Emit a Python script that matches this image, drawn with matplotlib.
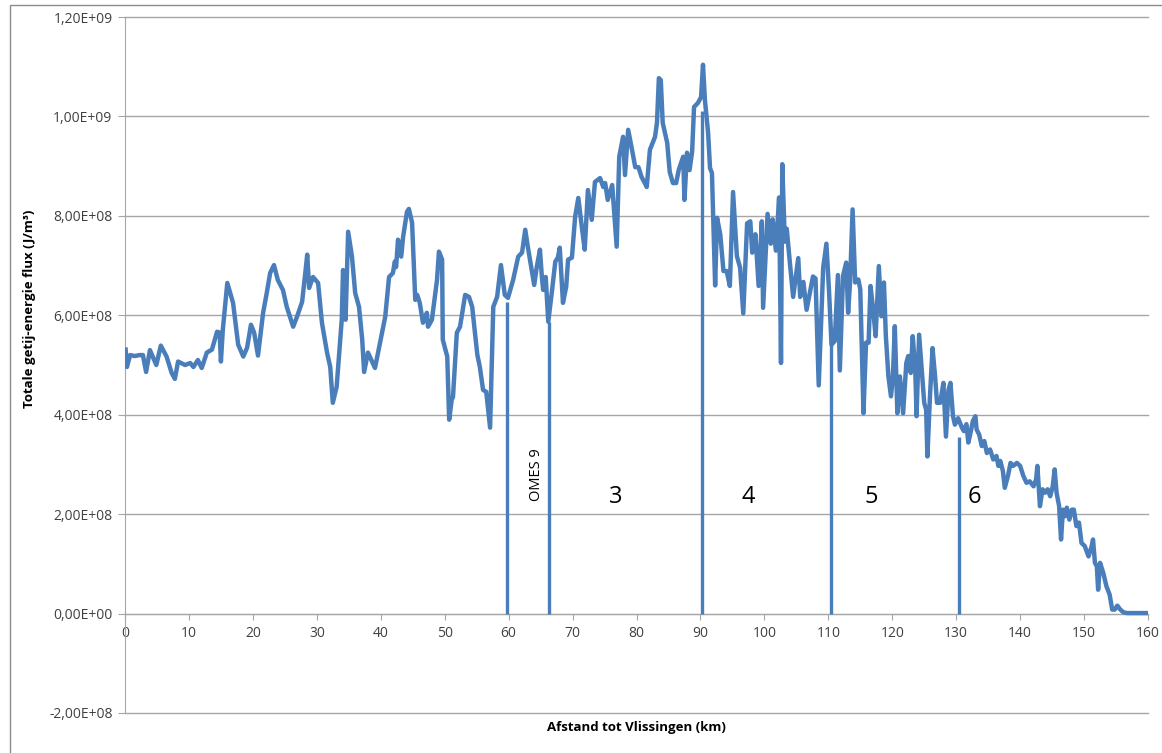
import matplotlib
matplotlib.use("Agg")
import matplotlib.pyplot as plt
from matplotlib.ticker import FuncFormatter, MultipleLocator
from matplotlib.patches import Rectangle

# Distance from Vlissingen (km)
km = [
    0.1, 0.3, 0.8, 1.5, 2.3, 2.8, 3.3, 3.9, 4.9, 5.6, 6.5, 7.3, 7.8, 8.3, 9.4,
    10.2, 10.7, 11.4, 12.0, 12.8, 13.6, 14.4, 14.8, 15.0, 15.3, 16.0, 16.9,
    17.7, 18.5, 19.1, 19.7, 20.2, 20.8, 21.6, 22.2, 22.7, 23.3, 23.9, 24.7,
    25.3, 26.3, 26.9, 27.7, 28.2, 28.5, 28.8, 29.4, 30.2, 30.8, 31.6, 32.1,
    32.5, 33.1, 33.9, 34.1, 34.5, 34.9, 35.5, 36.0, 36.6, 37.1, 37.4, 38.0,
    39.1, 39.9, 40.7, 41.3, 41.9, 42.2, 42.4, 42.7, 43.2, 43.5, 44.1, 44.4,
    44.9, 45.4, 45.7, 46.1, 46.6, 47.2, 47.4, 48.0, 48.8, 49.1, 49.6, 49.7,
    50.4, 50.7, 51.1, 51.3, 51.9, 52.4, 53.2, 53.8, 54.3, 55.1, 55.5, 56.0,
    56.5, 57.1, 57.6, 58.2, 58.8, 59.4, 59.9, 60.7, 61.5, 62.1, 62.6, 63.0,
    63.7, 64.0, 64.4, 64.9, 65.2, 65.4, 65.8, 66.2, 66.8, 67.3, 67.7, 68.0,
    68.5, 69.0, 69.3, 69.9, 70.4, 70.9, 71.5, 71.9, 72.4, 73.0, 73.5, 74.3,
    74.8, 75.1, 75.5, 76.2, 76.9, 77.3, 77.9, 78.2, 78.7, 79.3, 79.8, 80.3,
    80.8, 81.3, 81.6, 82.1, 82.9, 83.2, 83.5, 83.8, 84.1, 84.8, 85.2, 85.7,
    86.2, 86.6, 87.3, 87.5, 87.9, 88.3, 88.7, 89.0, 89.6, 90.1, 90.4, 90.7,
    91.2, 91.5, 91.8, 92.3, 92.6, 93.1, 93.6, 94.1, 94.6, 95.1, 95.7, 96.2,
    96.7, 97.3, 97.8, 98.1, 98.6, 99.1, 99.6, 99.8, 100.5, 101.0, 101.3,
    101.8, 102.3, 102.6, 102.8, 103.2, 103.5, 104.0, 104.5, 105.3, 105.6,
    106.1, 106.6, 107.6, 108.0, 108.5, 109.2, 109.7, 110.1, 110.5, 111.0,
    111.5, 111.8, 112.3, 112.8, 113.1, 113.4, 113.8, 114.2, 114.7, 115.0,
    115.5, 115.9, 116.3, 116.6, 117.0, 117.4, 117.9, 118.3, 118.7, 119.0,
    119.4, 119.8, 120.1, 120.4, 120.8, 121.2, 121.7, 122.2, 122.5, 122.9,
    123.2, 123.6, 123.8, 124.2, 124.6, 125.0, 125.3, 125.5, 125.9, 126.3,
    126.7, 127.0, 127.5, 128.0, 128.4, 128.8, 129.1, 129.5, 129.8, 130.3,
    130.9, 131.2, 131.6, 131.9, 132.3, 132.6, 133.0, 133.2, 133.6, 134.0,
    134.4, 134.8, 135.3, 135.8, 136.3, 136.6, 136.9, 137.3, 137.6, 138.1,
    138.5, 138.9, 139.5, 140.0, 140.5, 141.0, 141.5, 142.1, 142.5, 142.7,
    143.1, 143.5, 143.9, 144.3, 144.7, 145.1, 145.4, 145.7, 146.1, 146.4,
    146.7, 147.0, 147.3, 147.7, 148.1, 148.4, 148.8, 149.2, 149.6, 150.1,
    150.7, 151.2, 151.4, 151.7, 152.0, 152.2, 152.5, 153.0, 153.5, 154.0,
    154.4, 154.8, 155.2, 155.6, 156.1, 156.7, 160.0,
]

# Total tidal energy flux (x 1E8 J/m3)
flux_e8 = [
    5.31, 4.96, 5.20, 5.18, 5.20, 5.20, 4.86, 5.30, 5.00, 5.39, 5.17, 4.84,
    4.72, 5.07, 5.00, 5.04, 4.96, 5.10, 4.94, 5.25, 5.31, 5.67, 5.65, 5.07,
    5.71, 6.65, 6.25, 5.41, 5.17, 5.35, 5.81, 5.65, 5.19, 6.05, 6.47, 6.85,
    7.01, 6.71, 6.51, 6.17, 5.77, 5.97, 6.27, 6.85, 7.22, 6.55, 6.77, 6.65,
    5.85, 5.25, 4.96, 4.24, 4.56, 5.91, 6.91, 5.91, 7.68, 7.18, 6.45, 6.17,
    5.51, 4.86, 5.25, 4.94, 5.45, 5.97, 6.77, 6.85, 7.08, 6.97, 7.52, 7.18,
    7.58, 8.08, 8.14, 7.86, 6.31, 6.41, 6.25, 5.85, 6.05, 5.77, 5.91, 6.71,
    7.28, 7.12, 5.51, 5.17, 3.90, 4.30, 4.36, 5.65, 5.77, 6.41, 6.37, 6.17,
    5.21, 4.96, 4.50, 4.46, 3.74, 6.17, 6.37, 7.01, 6.41, 6.35, 6.71, 7.18,
    7.26, 7.72, 7.38, 6.85, 6.61, 6.97, 7.32, 6.77, 6.51, 6.77, 5.87, 6.51,
    7.08, 7.16, 7.36, 6.25, 6.57, 7.12, 7.16, 7.98, 8.36, 7.72, 7.32, 8.52,
    7.92, 8.68, 8.76, 8.58, 8.66, 8.32, 8.62, 7.38, 9.19, 9.59, 8.82, 9.73,
    9.33, 8.98, 8.98, 8.78, 8.66, 8.58, 9.33, 9.59, 9.87, 10.77, 10.73, 9.87,
    9.47, 8.88, 8.66, 8.66, 8.92, 9.19, 8.32, 9.27, 8.92, 9.29, 10.19, 10.27,
    10.39, 11.04, 10.33, 9.67, 8.96, 8.86, 6.60, 7.96, 7.63, 6.89, 6.89, 6.59,
    8.48, 7.19, 6.96, 6.04, 7.85, 7.89, 7.26, 7.63, 6.59, 7.89, 6.15, 8.04,
    7.44, 7.93, 7.30, 8.37, 5.04, 9.04, 7.48, 7.74, 7.04, 6.37, 7.15, 6.37,
    6.67, 6.11, 6.78, 6.74, 4.59, 6.96, 7.44, 6.52, 5.41, 5.48, 6.81, 4.89,
    6.79, 7.06, 6.05, 6.66, 8.13, 6.66, 6.72, 6.52, 4.03, 5.45, 5.45, 6.59,
    6.12, 5.58, 6.99, 5.98, 6.66, 5.58, 4.77, 4.37, 4.77, 5.78, 4.03, 4.77,
    4.03, 5.04, 5.18, 4.84, 5.58, 4.91, 3.97, 5.61, 4.91, 4.24, 4.10, 3.16,
    4.37, 5.34, 4.77, 4.24, 4.24, 4.64, 3.56, 4.50, 4.64, 3.97, 3.80, 3.93,
    3.74, 3.67, 3.81, 3.44, 3.67, 3.87, 3.97, 3.70, 3.60, 3.37, 3.47, 3.23,
    3.30, 3.10, 3.17, 2.97, 3.07, 2.87, 2.53, 2.77, 3.03, 2.97, 3.03, 2.97,
    2.77, 2.63, 2.66, 2.56, 2.70, 2.97, 2.16, 2.50, 2.43, 2.50, 2.36, 2.56,
    2.90, 2.43, 2.16, 1.49, 2.09, 1.96, 2.13, 1.89, 2.09, 2.09, 1.76, 1.83,
    1.42, 1.36, 1.15, 1.36, 1.49, 1.02, 0.95, 0.48, 1.02, 0.82, 0.55, 0.38,
    0.08, 0.08, 0.16, 0.09, 0.03, 0.01, 0.01,
]

# Section boundaries (km) and the flux where each marker line ends
boundary_km = [59.7, 66.3, 90.2, 110.4, 130.4]
boundary_top_e8 = [6.27, 5.87, 10.10, 5.48, 3.56]

# Section labels
section_labels = ["OMES 9", "3", "4", "5", "6"]
section_km = [64.4, 76.8, 97.4, 116.7, 132.8]
section_y_e8 = [2.79, 2.35, 2.35, 2.35, 2.35]

y_ticks_e8 = [-2, 0, 2, 4, 6, 8, 10, 12]

flux = [v * 1e8 for v in flux_e8]
boundary_top = [v * 1e8 for v in boundary_top_e8]
section_y = [v * 1e8 for v in section_y_e8]
y_ticks = [v * 1e8 for v in y_ticks_e8]

BLUE = "#4A7EBB"
GRID = "#A6A6A6"
TEXT = "#404040"
FONT = ["Open Sans", "DejaVu Sans"]

plt.rcParams["font.family"] = FONT

fig = plt.figure(figsize=(11.62, 7.53), dpi=100)
W, H = 1162, 753

# Chart area frame
fig.patches.append(Rectangle((10 / W, -0.05), 1.2, 1 - 5 / H + 0.05,
                             transform=fig.transFigure, fill=False,
                             edgecolor="#8C8C8C", linewidth=1.0))

ax = fig.add_axes([125 / W, 1 - 713 / H, (1148 - 125) / W, (713 - 17) / H])

ax.set_xlim(0, 160)
ax.set_ylim(-2e8, 1.2e9)
ax.set_yticks(y_ticks)
ax.xaxis.set_major_locator(MultipleLocator(10))

# Horizontal gridlines, including the ones on the plot edges
for yv in y_ticks:
    ax.axhline(yv, color=GRID, linewidth=1.0, zorder=1, clip_on=False)

for side in ("top", "right"):
    ax.spines[side].set_visible(False)
ax.spines["left"].set_color(GRID)
ax.spines["bottom"].set_color(GRID)
ax.spines["bottom"].set_position(("data", 0))

ax.tick_params(axis="y", direction="out", length=5, color=GRID,
               labelsize=10, labelcolor=TEXT, pad=4)
ax.tick_params(axis="x", direction="out", length=4, color=GRID,
               labelsize=10, labelcolor=TEXT, pad=5)

ax.yaxis.set_major_formatter(
    FuncFormatter(lambda v, _: f"{v:.2E}".replace(".", ",")))
ax.xaxis.set_major_formatter(FuncFormatter(lambda v, _: f"{v:.0f}"))

# Section boundary markers
ax.vlines(boundary_km, 0, boundary_top, color=BLUE, linewidth=2.4, zorder=3)

# Energy flux profile
ax.plot(km, flux, color=BLUE, linewidth=3.2, solid_joinstyle="round",
        zorder=4)

for lab, xk, yv in zip(section_labels, section_km, section_y):
    if lab == "OMES 9":
        ax.text(xk, yv, lab, rotation=90, ha="center", va="center",
                fontsize=10.5, color="black")
    else:
        ax.text(xk, yv, lab, ha="center", va="center", fontsize=17,
                color="black")

fig.text(636 / W, 1 - 727 / H, "Afstand tot Vlissingen (km)", ha="center",
         va="center", fontsize=9.5, fontweight="bold", color="black")
fig.text(30 / W, 1 - 309 / H, "Totale getij-energie flux (J/m³)",
         rotation=90, ha="center", va="center", fontsize=9.5,
         fontweight="bold", color="black")

fig.savefig("out.png", dpi=100, facecolor="white")
